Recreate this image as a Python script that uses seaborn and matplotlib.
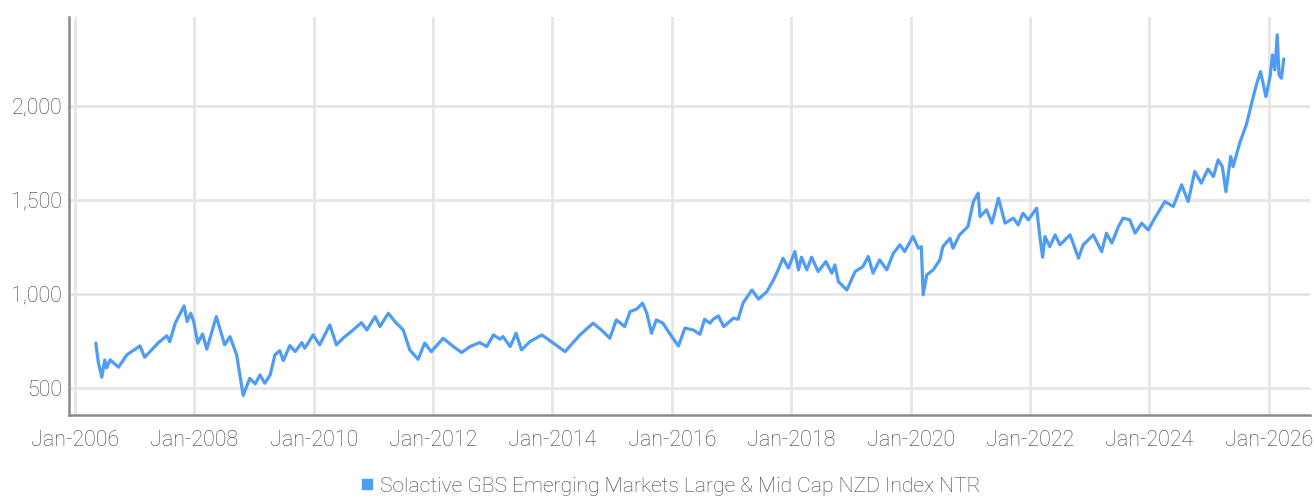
import pandas as pd
import numpy as np
import matplotlib
matplotlib.use("Agg")
import matplotlib.pyplot as plt
import matplotlib.dates as mdates
from matplotlib.lines import Line2D
import seaborn as sns

# index level, dates as decimal years
years = [2006.35, 2006.39, 2006.45, 2006.50, 2006.53, 2006.59, 2006.73, 2006.87,
         2007.09, 2007.17, 2007.40, 2007.54, 2007.59, 2007.68, 2007.83, 2007.88,
         2007.94, 2007.99, 2008.06, 2008.14, 2008.21, 2008.37, 2008.51, 2008.60,
         2008.71, 2008.82, 2008.93, 2009.02, 2009.10, 2009.18, 2009.27, 2009.35,
         2009.43, 2009.49, 2009.60, 2009.69, 2009.80, 2009.85, 2009.99, 2010.10,
         2010.27, 2010.38, 2010.49, 2010.63, 2010.80, 2010.89, 2011.03, 2011.11,
         2011.25, 2011.36, 2011.50, 2011.61, 2011.75, 2011.86, 2011.97, 2012.17,
         2012.34, 2012.48, 2012.62, 2012.78, 2012.90, 2013.01, 2013.12, 2013.17,
         2013.29, 2013.39, 2013.48, 2013.62, 2013.82, 2013.98, 2014.21, 2014.46,
         2014.68, 2014.82, 2014.96, 2015.07, 2015.21, 2015.30, 2015.41, 2015.51,
         2015.58, 2015.66, 2015.74, 2015.85, 2016.00, 2016.11, 2016.22, 2016.36,
         2016.47, 2016.55, 2016.64, 2016.69, 2016.78, 2016.87, 2017.03, 2017.11,
         2017.19, 2017.34, 2017.45, 2017.59, 2017.70, 2017.78, 2017.86, 2017.95,
         2018.06, 2018.12, 2018.17, 2018.26, 2018.34, 2018.45, 2018.58, 2018.68,
         2018.73, 2018.79, 2018.93, 2019.07, 2019.20, 2019.29, 2019.37, 2019.48,
         2019.60, 2019.71, 2019.82, 2019.90, 2020.04, 2020.13, 2020.18, 2020.21,
         2020.27, 2020.38, 2020.49, 2020.54, 2020.66, 2020.71, 2020.82, 2020.96,
         2021.05, 2021.13, 2021.16, 2021.27, 2021.36, 2021.47, 2021.58, 2021.72,
         2021.80, 2021.88, 2021.97, 2022.11, 2022.16, 2022.21, 2022.25, 2022.33,
         2022.42, 2022.50, 2022.67, 2022.81, 2022.89, 2023.06, 2023.20, 2023.28,
         2023.37, 2023.48, 2023.56, 2023.67, 2023.76, 2023.87, 2023.98, 2024.09,
         2024.26, 2024.40, 2024.54, 2024.65, 2024.76, 2024.87, 2024.98, 2025.07,
         2025.15, 2025.22, 2025.28, 2025.36, 2025.40, 2025.51, 2025.63, 2025.71,
         2025.79, 2025.86, 2025.95, 2026.02, 2026.06, 2026.10, 2026.14, 2026.17,
         2026.21, 2026.25]

values = [738, 640, 557, 649, 606, 649, 610, 676,
          723, 663, 741, 777, 746, 844, 936, 853,
          897, 853, 738, 787, 706, 879, 729, 773,
          676, 460, 551, 521, 569, 525, 569, 676,
          698, 645, 725, 693, 741, 711, 782, 729,
          835, 729, 764, 800, 847, 808, 879, 826,
          897, 853, 808, 702, 652, 738, 693, 764,
          720, 688, 720, 741, 720, 782, 759, 773,
          720, 791, 702, 746, 782, 746, 693, 782,
          844, 808, 764, 862, 826, 906, 919, 951,
          897, 791, 862, 844, 773, 723, 818, 808,
          785, 865, 844, 865, 883, 826, 871, 865,
          951, 1021, 972, 1012, 1074, 1128, 1190, 1137,
          1225, 1128, 1195, 1128, 1195, 1119, 1172, 1110,
          1154, 1065, 1021, 1119, 1145, 1199, 1110, 1181,
          1128, 1216, 1261, 1225, 1305, 1243, 1251, 995,
          1101, 1128, 1181, 1251, 1296, 1243, 1314, 1358,
          1491, 1536, 1411, 1447, 1376, 1509, 1376, 1403,
          1367, 1429, 1394, 1456, 1314, 1195, 1305, 1251,
          1314, 1261, 1314, 1190, 1261, 1314, 1225, 1323,
          1270, 1358, 1403, 1394, 1323, 1376, 1340, 1403,
          1491, 1465, 1580, 1491, 1651, 1589, 1664, 1624,
          1713, 1677, 1544, 1731, 1677, 1801, 1908, 2014,
          2112, 2182, 2049, 2156, 2271, 2191, 2378, 2165,
          2147, 2250]

series_name = "Solactive GBS Emerging Markets Large & Mid Cap NZD Index NTR"
tick_years = list(range(2006, 2027, 2))
y_ticks = [500, 1000, 1500, 2000]


def to_date(y):
    yr = int(np.floor(y))
    return pd.Timestamp(yr, 1, 1) + pd.Timedelta(days=(y - yr) * 365.25)


df = pd.DataFrame({"Date": [to_date(y) for y in years], "Value": values})

sns.set_style("whitegrid")
plt.rcParams["font.family"] = ["Roboto", "DejaVu Sans"]
plt.rcParams["font.weight"] = "light"

line_col = "#4f9cf6"
grid_col = "#e6e6e6"
text_col = "#404040"

fig = plt.figure(figsize=(13.14, 4.98), dpi=100)
ax = fig.add_axes([0.0525, 0.1667, 0.9445, 0.7993])

sns.lineplot(data=df, x="Date", y="Value", ax=ax, color=line_col, linewidth=2.3)

ax.set_xlim(to_date(2005.90), to_date(2026.69))
ax.set_ylim(356, 2473)
ax.set_xticks([pd.Timestamp(y, 1, 1) for y in tick_years])
ax.xaxis.set_major_formatter(mdates.DateFormatter("%b-%Y"))
ax.set_yticks(y_ticks)
ax.set_yticklabels([f"{v:,}" for v in y_ticks])

ax.grid(True, color=grid_col, linewidth=2.0)
ax.set_xlabel("")
ax.set_ylabel("")
ax.tick_params(axis="both", length=0, labelsize=15.5, labelcolor=text_col)
ax.tick_params(axis="x", pad=11)
ax.tick_params(axis="y", pad=5)

for side in ["top", "right"]:
    ax.spines[side].set_visible(False)
for side in ["left", "bottom"]:
    ax.spines[side].set_visible(True)
    ax.spines[side].set_color("#8a8a8a")
    ax.spines[side].set_linewidth(1.8)

handle = Line2D([], [], marker="s", linestyle="", color=line_col, markersize=7.5)
fig.legend([handle], [series_name], loc="center", bbox_to_anchor=(0.51, 0.024),
           frameon=False, fontsize=15.2, labelcolor=text_col, handletextpad=0.25,
           handlelength=0.7, borderaxespad=0)

fig.savefig("out.png", dpi=100)
